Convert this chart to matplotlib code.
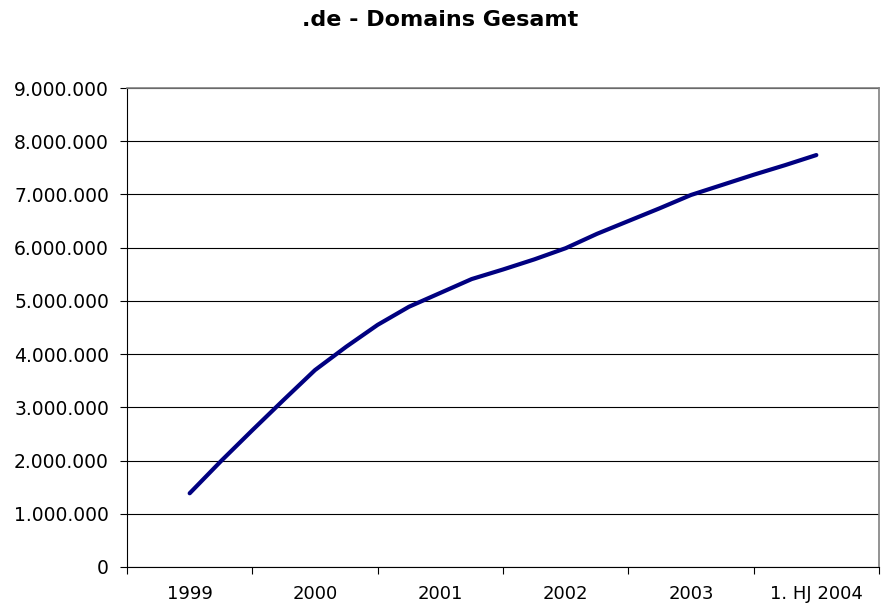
import matplotlib
matplotlib.use("Agg")
import matplotlib.pyplot as plt
import numpy as np
from matplotlib.ticker import FuncFormatter, FixedLocator

categories = ["1999", "2000", "2001", "2002", "2003", "1. HJ 2004"]
# quarterly values (millions of domains)
domains_mio = [1.385, 1.99, 2.57, 3.14, 3.70, 4.14, 4.55, 4.89, 5.15, 5.41, 5.59,
               5.78, 5.99, 6.26, 6.50, 6.74, 6.99, 7.18, 7.37, 7.55, 7.74]
steps_per_category = 4

values = np.array(domains_mio) * 1e6
xpos = np.arange(len(values)) / steps_per_category

fig = plt.figure(figsize=(8.81, 6.06), dpi=100)
ax = fig.add_axes([127/881, 39/606, (879-127)/881, (567-88)/606])

ax.plot(xpos, values, color="#000080", lw=3.0, solid_capstyle="round", solid_joinstyle="round", zorder=3)

ax.set_xlim(-0.5, len(categories) - 0.5)
ax.set_ylim(0, 9e6)
ax.set_yticks(np.arange(0, 9.01e6, 1e6))
ax.yaxis.set_major_formatter(FuncFormatter(lambda v, p: f"{int(round(v)):,}".replace(",", ".")))
ax.grid(axis="y", color="black", lw=0.8)
ax.set_axisbelow(True)

ax.xaxis.set_major_locator(FixedLocator(np.arange(-0.5, len(categories), 1.0)))
ax.xaxis.set_minor_locator(FixedLocator(np.arange(len(categories))))
ax.set_xticklabels([], minor=False)
ax.set_xticklabels(categories, minor=True)
ax.tick_params(axis="x", which="major", length=5, width=0.8, direction="out")
ax.tick_params(axis="x", which="minor", length=0, pad=13, labelsize=13)
ax.tick_params(axis="y", length=5, width=0.8, labelsize=13.5, pad=8)

for s in ["left", "bottom"]:
    ax.spines[s].set_color("black")
    ax.spines[s].set_linewidth(0.8)
for s in ["top", "right"]:
    ax.spines[s].set_color("#808080")
    ax.spines[s].set_linewidth(1.2)

fig.text(0.5, 1 - 20/606, ".de - Domains Gesamt", ha="center", va="center",
         fontsize=16, fontweight="bold")

fig.savefig("out.png", dpi=100)
